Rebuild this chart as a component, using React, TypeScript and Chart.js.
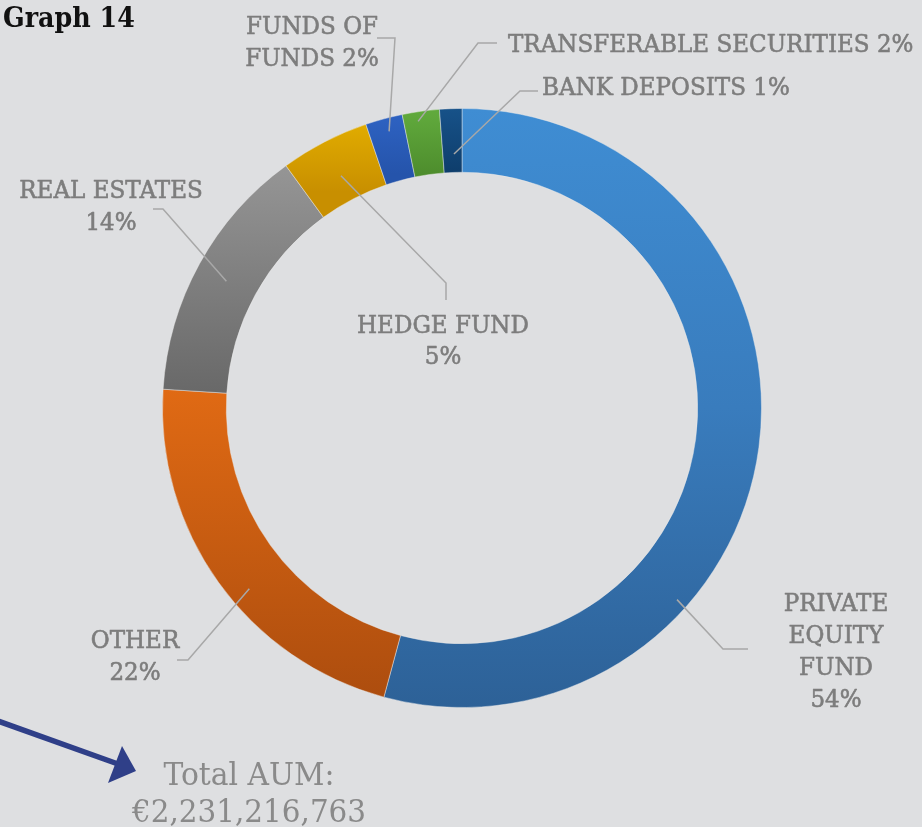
import React, { useEffect, useRef } from "react";
import { Chart, registerables } from "chart.js";

Chart.register(...registerables);

// ---- data ----
const categories = [
  "PRIVATE EQUITY FUND",
  "OTHER",
  "REAL ESTATES",
  "HEDGE FUND",
  "FUNDS OF FUNDS",
  "TRANSFERABLE SECURITIES",
  "BANK DEPOSITS",
];
const shares = [54.2, 21.8, 14.0, 4.8, 2.0, 2.0, 1.2];
const percentLabels = ["54%", "22%", "14%", "5%", "2%", "2%", "1%"];
const titleText = "Graph 14";
const totalLines = ["Total AUM:", "€2,231,216,763"];

// ---- style ----
const W = 922;
const H = 827;
const BG = "#dedfe1";
const TEXT = "#7d7d7d";
const LEADER = "#a8a8a8";

const gradientStops: [number, string][][] = [
  [[0, "#3f8dd3"], [0.5, "#397cbd"], [1, "#2d6197"]],
  [[0.45, "#e26b14"], [1, "#ab4c0e"]],
  [[0.1, "#959595"], [0.47, "#696969"]],
  [[0.03, "#e0ab00"], [0.14, "#c88f00"]],
  [[0.02, "#2d61c0"], [0.11, "#2554ab"]],
  [[0.01, "#60a93c"], [0.11, "#4e8d2d"]],
  [[0, "#175289"], [0.11, "#0e3d6b"]],
];

type LabelLayout = {
  breaks: number[];
  x: number;
  baselines: number[];
  align: CanvasTextAlign;
  t: number;
  rf: number;
  path: [number, number][];
};

const labelLayouts: LabelLayout[] = [
  { breaks: [1, 1, 1, 1], x: 836, baselines: [611, 643, 675, 707], align: "center", t: 0.675, rf: 0.82, path: [[723, 649], [748, 649]] },
  { breaks: [1, 1], x: 135, baselines: [648, 680], align: "center", t: 0.44, rf: 0.68, path: [[188, 660], [177, 660]] },
  { breaks: [2, 1], x: 111, baselines: [198, 230], align: "center", t: 0.49, rf: 0.5, path: [[163, 209], [153, 209]] },
  { breaks: [2, 1], x: 443, baselines: [333, 364], align: "center", t: 0.49, rf: 0.41, path: [[446, 283], [446, 300]] },
  { breaks: [2, 2], x: 312, baselines: [34, 66], align: "center", t: 0.55, rf: 0.79, path: [[395, 38], [377, 38]] },
  { breaks: [3], x: 508, baselines: [52], align: "left", t: 0.39, rf: 0.85, path: [[478, 43], [497, 43]] },
  { breaks: [3], x: 542, baselines: [95], align: "left", t: 0.58, rf: 0.29, path: [[520, 91], [538, 91]] },
];

const LABEL_FONT = "24px 'DejaVu Serif'";
const LABEL_SX = 0.96;

function drawText(
  ctx: CanvasRenderingContext2D,
  text: string,
  x: number,
  y: number,
  align: CanvasTextAlign,
  font: string,
  color: string,
  sx: number,
  stroke = 0
) {
  ctx.save();
  ctx.translate(x, y);
  ctx.scale(sx, 1);
  ctx.font = font;
  ctx.fillStyle = color;
  ctx.textAlign = align;
  ctx.textBaseline = "alphabetic";
  ctx.fillText(text, 0, 0);
  if (stroke > 0) {
    ctx.strokeStyle = color;
    ctx.lineWidth = stroke;
    ctx.lineJoin = "round";
    ctx.strokeText(text, 0, 0);
  }
  ctx.restore();
}

function splitLines(text: string, breaks: number[]): string[] {
  const words = text.split(" ");
  const out: string[] = [];
  let i = 0;
  for (const n of breaks) {
    out.push(words.slice(i, i + n).join(" "));
    i += n;
  }
  return out;
}

const bgPlugin = {
  id: "bg",
  beforeDraw(chart: any) {
    const ctx = chart.ctx;
    ctx.save();
    ctx.fillStyle = BG;
    ctx.fillRect(0, 0, chart.width, chart.height);
    ctx.restore();
  },
};

const labelPlugin = {
  id: "labels",
  afterDatasetsDraw(chart: any) {
    const ctx: CanvasRenderingContext2D = chart.ctx;
    const meta = chart.getDatasetMeta(0);
    meta.data.forEach((arc: any, i: number) => {
      const L = labelLayouts[i];
      if (!L) return;
      const p = arc.getProps(["x", "y", "startAngle", "endAngle", "innerRadius", "outerRadius"], true);
      const a = p.startAngle + L.t * (p.endAngle - p.startAngle);
      const r = p.innerRadius + L.rf * (p.outerRadius - p.innerRadius);
      const sx = p.x + Math.cos(a) * r;
      const sy = p.y + Math.sin(a) * r;
      ctx.save();
      ctx.strokeStyle = LEADER;
      ctx.lineWidth = 1.5;
      ctx.beginPath();
      ctx.moveTo(sx, sy);
      L.path.forEach(([px, py]) => ctx.lineTo(px, py));
      ctx.stroke();
      ctx.restore();
      const lines = splitLines(`${categories[i]} ${percentLabels[i]}`, L.breaks);
      lines.forEach((ln, k) => drawText(ctx, ln, L.x, L.baselines[k], L.align, LABEL_FONT, TEXT, LABEL_SX, 0.6));
    });

    // title
    drawText(ctx, titleText, 3, 27, "left", "bold 27px 'DejaVu Serif'", "#111111", 0.94);

    // total
    drawText(ctx, totalLines[0], 249, 785, "center", "31px 'DejaVu Serif'", "#8a8a8a", 0.96);
    drawText(ctx, totalLines[1], 249, 822, "center", "31px 'DejaVu Serif'", "#8a8a8a", 0.95);

    // arrow
    ctx.save();
    ctx.strokeStyle = "#2f3f88";
    ctx.fillStyle = "#2f3f88";
    ctx.lineWidth = 5.5;
    ctx.beginPath();
    ctx.moveTo(-2, 721);
    ctx.lineTo(118, 764);
    ctx.stroke();
    ctx.beginPath();
    ctx.moveTo(136, 771);
    ctx.lineTo(122, 746);
    ctx.lineTo(108, 783);
    ctx.closePath();
    ctx.fill();
    ctx.restore();
  },
};

export default function App() {
  const ref = useRef<HTMLCanvasElement | null>(null);
  useEffect(() => {
    document.body.style.margin = "0";
    document.body.style.background = BG;
    if (!ref.current) return;
    const chart = new Chart(ref.current, {
      type: "doughnut",
      data: {
        labels: categories,
        datasets: [
          {
            data: shares,
            backgroundColor: (c: any) => {
              const stops = gradientStops[c.dataIndex] || [[0, "#888"]];
              const area = c.chart.chartArea;
              if (!area) return stops[0][1];
              const g = c.chart.ctx.createLinearGradient(0, area.top, 0, area.bottom);
              stops.forEach(([f, col]) => g.addColorStop(f, col));
              return g;
            },
            borderWidth: 1,
            borderColor: "rgba(235,235,235,0.45)",
            hoverOffset: 0,
          },
        ],
      },
      options: {
        responsive: false,
        animation: false,
        cutout: "78.7%",
        layout: { padding: { left: 162, right: 160, top: 108, bottom: 119 } },
        plugins: { legend: { display: false }, tooltip: { enabled: false } },
        events: [],
      },
      plugins: [bgPlugin, labelPlugin],
    });
    return () => chart.destroy();
  }, []);
  return (
    <div style={{ position: "absolute", left: 0, top: 0, width: W, height: H, background: BG }}>
      <canvas ref={ref} width={W} height={H} style={{ width: W, height: H, display: "block" }} />
    </div>
  );
}
